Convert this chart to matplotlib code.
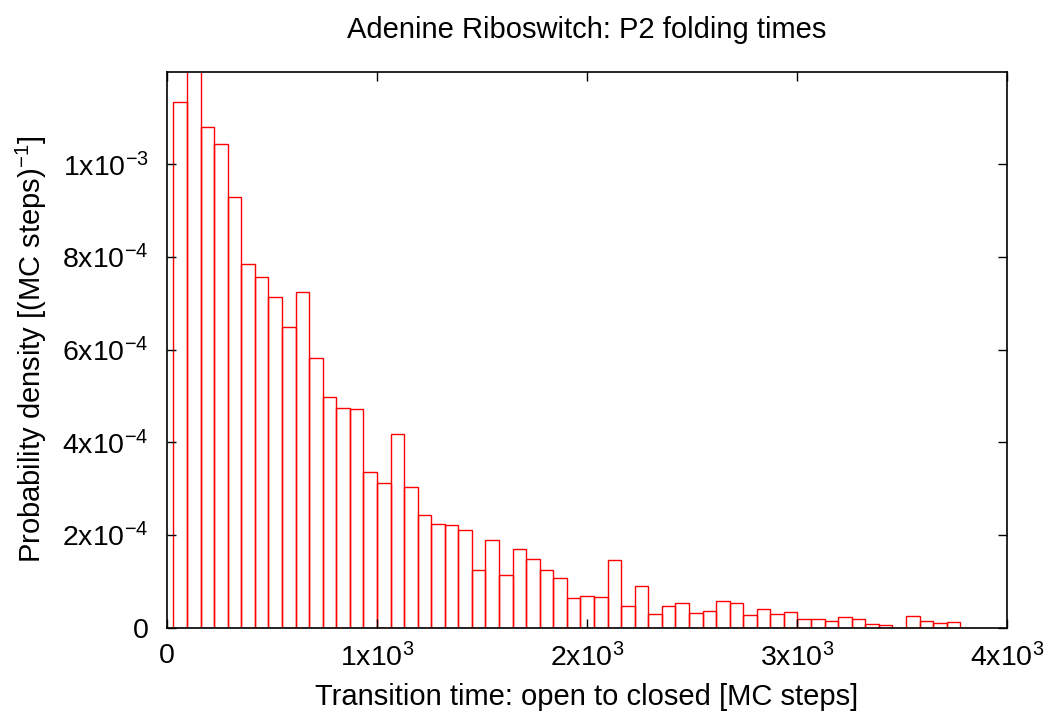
import numpy as np
import matplotlib
matplotlib.use("Agg")
import matplotlib.pyplot as plt

plt.rcParams["font.family"] = ["Liberation Sans", "DejaVu Sans"]
plt.rcParams["mathtext.default"] = "regular"
plt.rcParams.update({'font.size': 21})

# histogram of transition times (bin width ~64.55 MC steps)
bin_width = 64.55
density = [11.34, 12.40, 10.80, 10.44, 9.30, 7.85, 7.57, 7.13, 6.49, 7.24,
           5.83, 4.97, 4.75, 4.73, 3.37, 3.13, 4.18, 3.03, 2.43, 2.24,
           2.22, 2.11, 1.24, 1.90, 1.14, 1.69, 1.48, 1.25, 1.08, 0.63,
           0.68, 0.66, 1.47, 0.47, 0.89, 0.30, 0.46, 0.53, 0.31, 0.35,
           0.57, 0.53, 0.28, 0.40, 0.29, 0.34, 0.19, 0.19, 0.15, 0.24,
           0.19, 0.07, 0.05, 0.00, 0.26, 0.14, 0.10, 0.12, 0.00]
density = np.array(density) * 1e-4
centers = bin_width * np.arange(1, len(density) + 1)

xticks = [0, 1000, 2000, 3000, 4000]
xlabels = ["0", "1x$10^{3}$", "2x$10^{3}$", "3x$10^{3}$", "4x$10^{3}$"]
yticks = [0, 2e-4, 4e-4, 6e-4, 8e-4, 1e-3]
ylabels = ["0", "2x$10^{-4}$", "4x$10^{-4}$", "6x$10^{-4}$", "8x$10^{-4}$", "1x$10^{-3}$"]

fig = plt.figure(figsize=(10.51, 7.19), dpi=100)
ax = fig.add_axes([0.1586, 0.127, 0.7998, 0.7733])

ax.bar(centers, density, width=bin_width, facecolor="none",
       edgecolor="red", linewidth=1.0)

ax.set_xlim(0, 4000)
ax.set_ylim(0, 1.2e-3)
ax.set_xticks(xticks)
ax.set_xticklabels(xlabels)
ax.set_yticks(yticks)
ax.set_yticklabels(ylabels)
ax.tick_params(direction="in", length=6.5, width=1.0, top=True, right=True,
               labelsize=20.5)
ax.tick_params(axis="x", pad=11)
ax.tick_params(axis="y", pad=13)
for s in ax.spines.values():
    s.set_linewidth(1.2)

ax.set_xlabel("Transition time: open to closed [MC steps]", labelpad=8)
ax.set_ylabel("Probability density [(MC steps)$^{-1}$]", labelpad=10)
ax.set_title("Adenine Riboswitch: P2 folding times", fontsize=21, pad=24)

plt.savefig("out.png", dpi=100)
